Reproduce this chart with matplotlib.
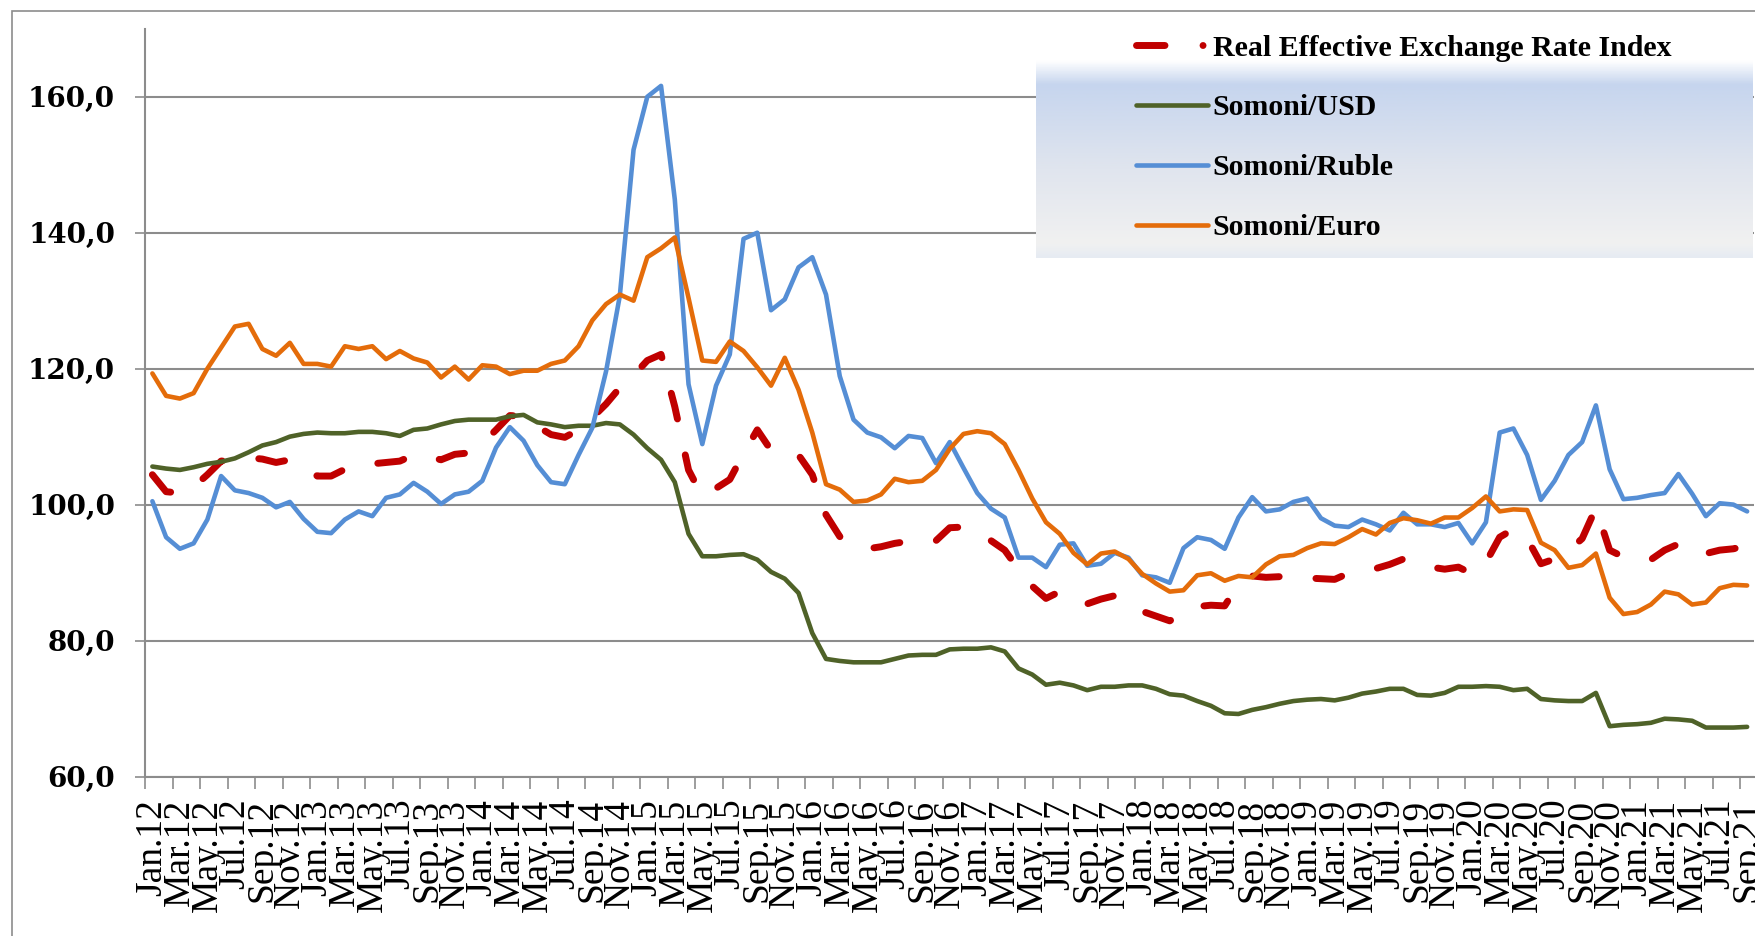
import numpy as np
import matplotlib
matplotlib.use("Agg")
import matplotlib.pyplot as plt
from matplotlib.lines import Line2D
from matplotlib.patches import Rectangle
from matplotlib.colors import LinearSegmentedColormap

plt.rcParams['lines.scale_dashes'] = False

# monthly categories Jan.12 .. Sep.21
month_names = ["Jan.", "Feb.", "Mar.", "Apr.", "May.", "Jun.",
               "Jul.", "Aug.", "Sep.", "Oct.", "Nov.", "Dec."]
months = [f"{m}{y}" for y in range(12, 22) for m in month_names][:117]

reer = [104.4, 101.9, 101.7, 102.6, 104.4, 106.4, 106.6, 106.9, 106.7, 106.2,
        106.6, 105.5, 104.2, 104.2, 105.2, 105.7, 106.0, 106.2, 106.4, 107.3,
        107.0, 106.6, 107.4, 107.6, 109.0, 111.0, 113.1, 113.0, 111.5, 110.3,
        109.9, 111.0, 112.8, 114.8, 117.2, 119.0, 121.2, 122.1, 114.4, 105.1,
        101.2, 102.4, 103.7, 107.5, 111.0, 108.0, 107.6, 107.3, 104.4, 98.5,
        95.3, 94.2, 93.5, 93.8, 94.3, 94.6, 94.8, 94.7, 96.6, 96.7,
        95.8, 94.7, 93.3, 90.5, 88.0, 86.2, 87.2, 86.3, 85.4, 86.1,
        86.6, 85.5, 84.3, 83.6, 82.9, 84.0, 85.0, 85.2, 85.1, 88.3,
        89.5, 89.3, 89.4, 89.3, 89.2, 89.1, 89.0, 89.9, 90.2, 90.6,
        91.2, 92.0, 91.3, 90.8, 90.5, 90.8, 89.8, 91.5, 95.2, 96.4,
        95.0, 91.3, 92.0, 93.2, 95.0, 99.5, 93.3, 92.3, 91.9, 91.9,
        93.3, 94.2, 94.0, 92.8, 93.3, 93.5, 94.0]

usd = [105.6, 105.3, 105.1, 105.5, 106.0, 106.3, 106.8, 107.7, 108.7, 109.2,
       110.0, 110.4, 110.6, 110.5, 110.5, 110.7, 110.7, 110.5, 110.1, 111.0,
       111.2, 111.8, 112.3, 112.5, 112.5, 112.5, 113.0, 113.2, 112.1, 111.8,
       111.4, 111.6, 111.6, 112.0, 111.8, 110.3, 108.3, 106.6, 103.3, 95.7,
       92.4, 92.4, 92.6, 92.7, 91.9, 90.1, 89.1, 87.0, 81.1, 77.3,
       77.0, 76.8, 76.8, 76.8, 77.3, 77.8, 77.9, 77.9, 78.7, 78.8,
       78.8, 79.0, 78.4, 75.9, 75.0, 73.5, 73.8, 73.4, 72.7, 73.2,
       73.2, 73.4, 73.4, 72.9, 72.1, 71.9, 71.1, 70.4, 69.3, 69.2,
       69.8, 70.2, 70.7, 71.1, 71.3, 71.4, 71.2, 71.6, 72.2, 72.5,
       72.9, 72.9, 72.0, 71.9, 72.3, 73.2, 73.2, 73.3, 73.2, 72.7,
       72.9, 71.4, 71.2, 71.1, 71.1, 72.3, 67.4, 67.6, 67.7, 67.9,
       68.5, 68.4, 68.2, 67.2, 67.2, 67.2, 67.3]

ruble = [100.5, 95.2, 93.5, 94.3, 97.8, 104.2, 102.1, 101.7, 101.0, 99.6,
         100.4, 97.9, 96.0, 95.8, 97.8, 99.0, 98.3, 101.0, 101.5, 103.2,
         101.9, 100.1, 101.5, 101.9, 103.5, 108.4, 111.4, 109.4, 105.8, 103.3,
         103.0, 107.3, 111.3, 119.6, 130.7, 152.2, 160.0, 161.6, 144.9, 117.7,
         108.9, 117.5, 122.1, 139.1, 140.0, 128.6, 130.2, 134.9, 136.4, 130.9,
         118.9, 112.5, 110.6, 109.9, 108.3, 110.1, 109.8, 106.1, 109.2, 105.4,
         101.7, 99.4, 98.1, 92.2, 92.2, 90.8, 94.1, 94.3, 91.0, 91.3,
         92.9, 92.2, 89.6, 89.3, 88.5, 93.6, 95.2, 94.8, 93.5, 98.1,
         101.1, 99.0, 99.3, 100.4, 100.9, 98.0, 96.9, 96.7, 97.8, 97.1,
         96.2, 98.8, 97.1, 97.1, 96.7, 97.3, 94.3, 97.4, 110.6, 111.2,
         107.3, 100.7, 103.5, 107.3, 109.2, 114.6, 105.2, 100.8, 101.0, 101.4,
         101.7, 104.5, 101.6, 98.3, 100.2, 100.0, 99.0]

euro = [119.3, 116.0, 115.6, 116.4, 120.0, 123.1, 126.2, 126.6, 122.9, 121.9,
        123.8, 120.7, 120.7, 120.3, 123.3, 122.9, 123.3, 121.4, 122.6, 121.5,
        120.9, 118.7, 120.3, 118.4, 120.5, 120.3, 119.2, 119.7, 119.7, 120.7,
        121.2, 123.3, 127.1, 129.5, 130.9, 130.0, 136.4, 137.7, 139.3, 130.4,
        121.2, 121.0, 124.0, 122.6, 120.2, 117.5, 121.6, 116.9, 110.6, 103.0,
        102.2, 100.4, 100.6, 101.5, 103.8, 103.3, 103.5, 105.1, 108.2, 110.4,
        110.8, 110.5, 108.9, 105.1, 100.9, 97.4, 95.7, 92.9, 91.2, 92.8,
        93.1, 92.0, 89.8, 88.4, 87.2, 87.4, 89.6, 89.9, 88.8, 89.5,
        89.3, 91.2, 92.4, 92.6, 93.6, 94.3, 94.2, 95.2, 96.4, 95.6,
        97.3, 98.0, 97.7, 97.2, 98.1, 98.1, 99.5, 101.2, 99.0, 99.3,
        99.2, 94.4, 93.3, 90.7, 91.1, 92.8, 86.3, 83.9, 84.2, 85.3,
        87.2, 86.8, 85.3, 85.6, 87.7, 88.2, 88.1]

labels = ["Real Effective Exchange Rate Index", "Somoni/USD",
          "Somoni/Ruble", "Somoni/Euro"]
colors = ["#C00000", "#4F6228", "#558ED5", "#E46C0A"]
yticks = [60, 80, 100, 120, 140, 160]

W, H = 1756, 936
grey = "#8c8c8c"

fig = plt.figure(figsize=(W / 100, H / 100), dpi=100)
ax = fig.add_axes([145.5 / W, 1 - 776.5 / H, (1754 - 145.5) / W, (776.5 - 28.8) / H])

x = np.arange(len(months))
ax.plot(x, reer, color=colors[0], lw=5, dashes=(19, 26.5),
        dash_capstyle='round', dash_joinstyle='round', zorder=3)
lines = []
for vals, c in zip([usd, ruble, euro], colors[1:]):
    ln, = ax.plot(x, vals, color=c, lw=3.3, solid_joinstyle='round',
                  solid_capstyle='round', zorder=3)
    lines.append(ln)

ax.set_xlim(-0.5, len(months) - 0.5)
ax.set_ylim(60, 170)
ax.set_yticks(yticks)
ax.set_yticklabels([f"{v},0" for v in yticks], fontfamily='DejaVu Serif',
                   fontweight='bold', fontsize=20)
ax.yaxis.grid(True, color=grey, lw=1.5)
ax.set_axisbelow(True)

ax.set_xticks(x[::2])
ax.set_xticklabels(months[::2], rotation=90, fontfamily='Liberation Serif',
                   fontsize=27)
ax.set_xticks(np.arange(-0.5, len(months) - 0.5, 2), minor=True)
ax.tick_params(axis='x', which='major', length=0, pad=16)
ax.tick_params(axis='x', which='minor', length=8.6, width=1.2, color=grey)
ax.tick_params(axis='y', length=7, width=1.2, color=grey, pad=15)

for s in ['top', 'right']:
    ax.spines[s].set_visible(False)
for s in ['left', 'bottom']:
    ax.spines[s].set_color(grey)
    ax.spines[s].set_linewidth(1.5)

# legend background with vertical gradient
bg = LinearSegmentedColormap.from_list(
    "legend_bg", [(0, "#ffffff"), (0.12, "#c6d5ee"), (0.55, "#e0e5ee"),
                  (0.93, "#f1f1f1"), (1, "#e6ebf3")])
gax = fig.add_axes([1036 / W, 1 - 258 / H, (1753 - 1036) / W, (258 - 60) / H], zorder=1)
gax.imshow(np.linspace(0, 1, 200).reshape(-1, 1), cmap=bg, aspect='auto',
           extent=[0, 1, 0, 1])
gax.axis('off')

reer_handle = Line2D([], [], color=colors[0], lw=5, dashes=(20.5, 27.4, 0.01, 100),
                     dash_capstyle='round')
fig.legend([reer_handle] + lines, labels, loc='upper left',
           bbox_to_anchor=(1136 / W, 1 - 34.5 / H), frameon=False,
           prop=dict(family='Liberation Serif', weight='bold', size=21.5),
           handlelength=2.4, handletextpad=0.17, labelspacing=1.1,
           borderpad=0, borderaxespad=0)

# outer chart border
fig.add_artist(Rectangle((12.5 / W, -0.1), 1.2, 1.1 - 11.5 / H,
                         transform=fig.transFigure, fill=False, ec=grey, lw=1.2))

fig.savefig("out.png", dpi=100)
